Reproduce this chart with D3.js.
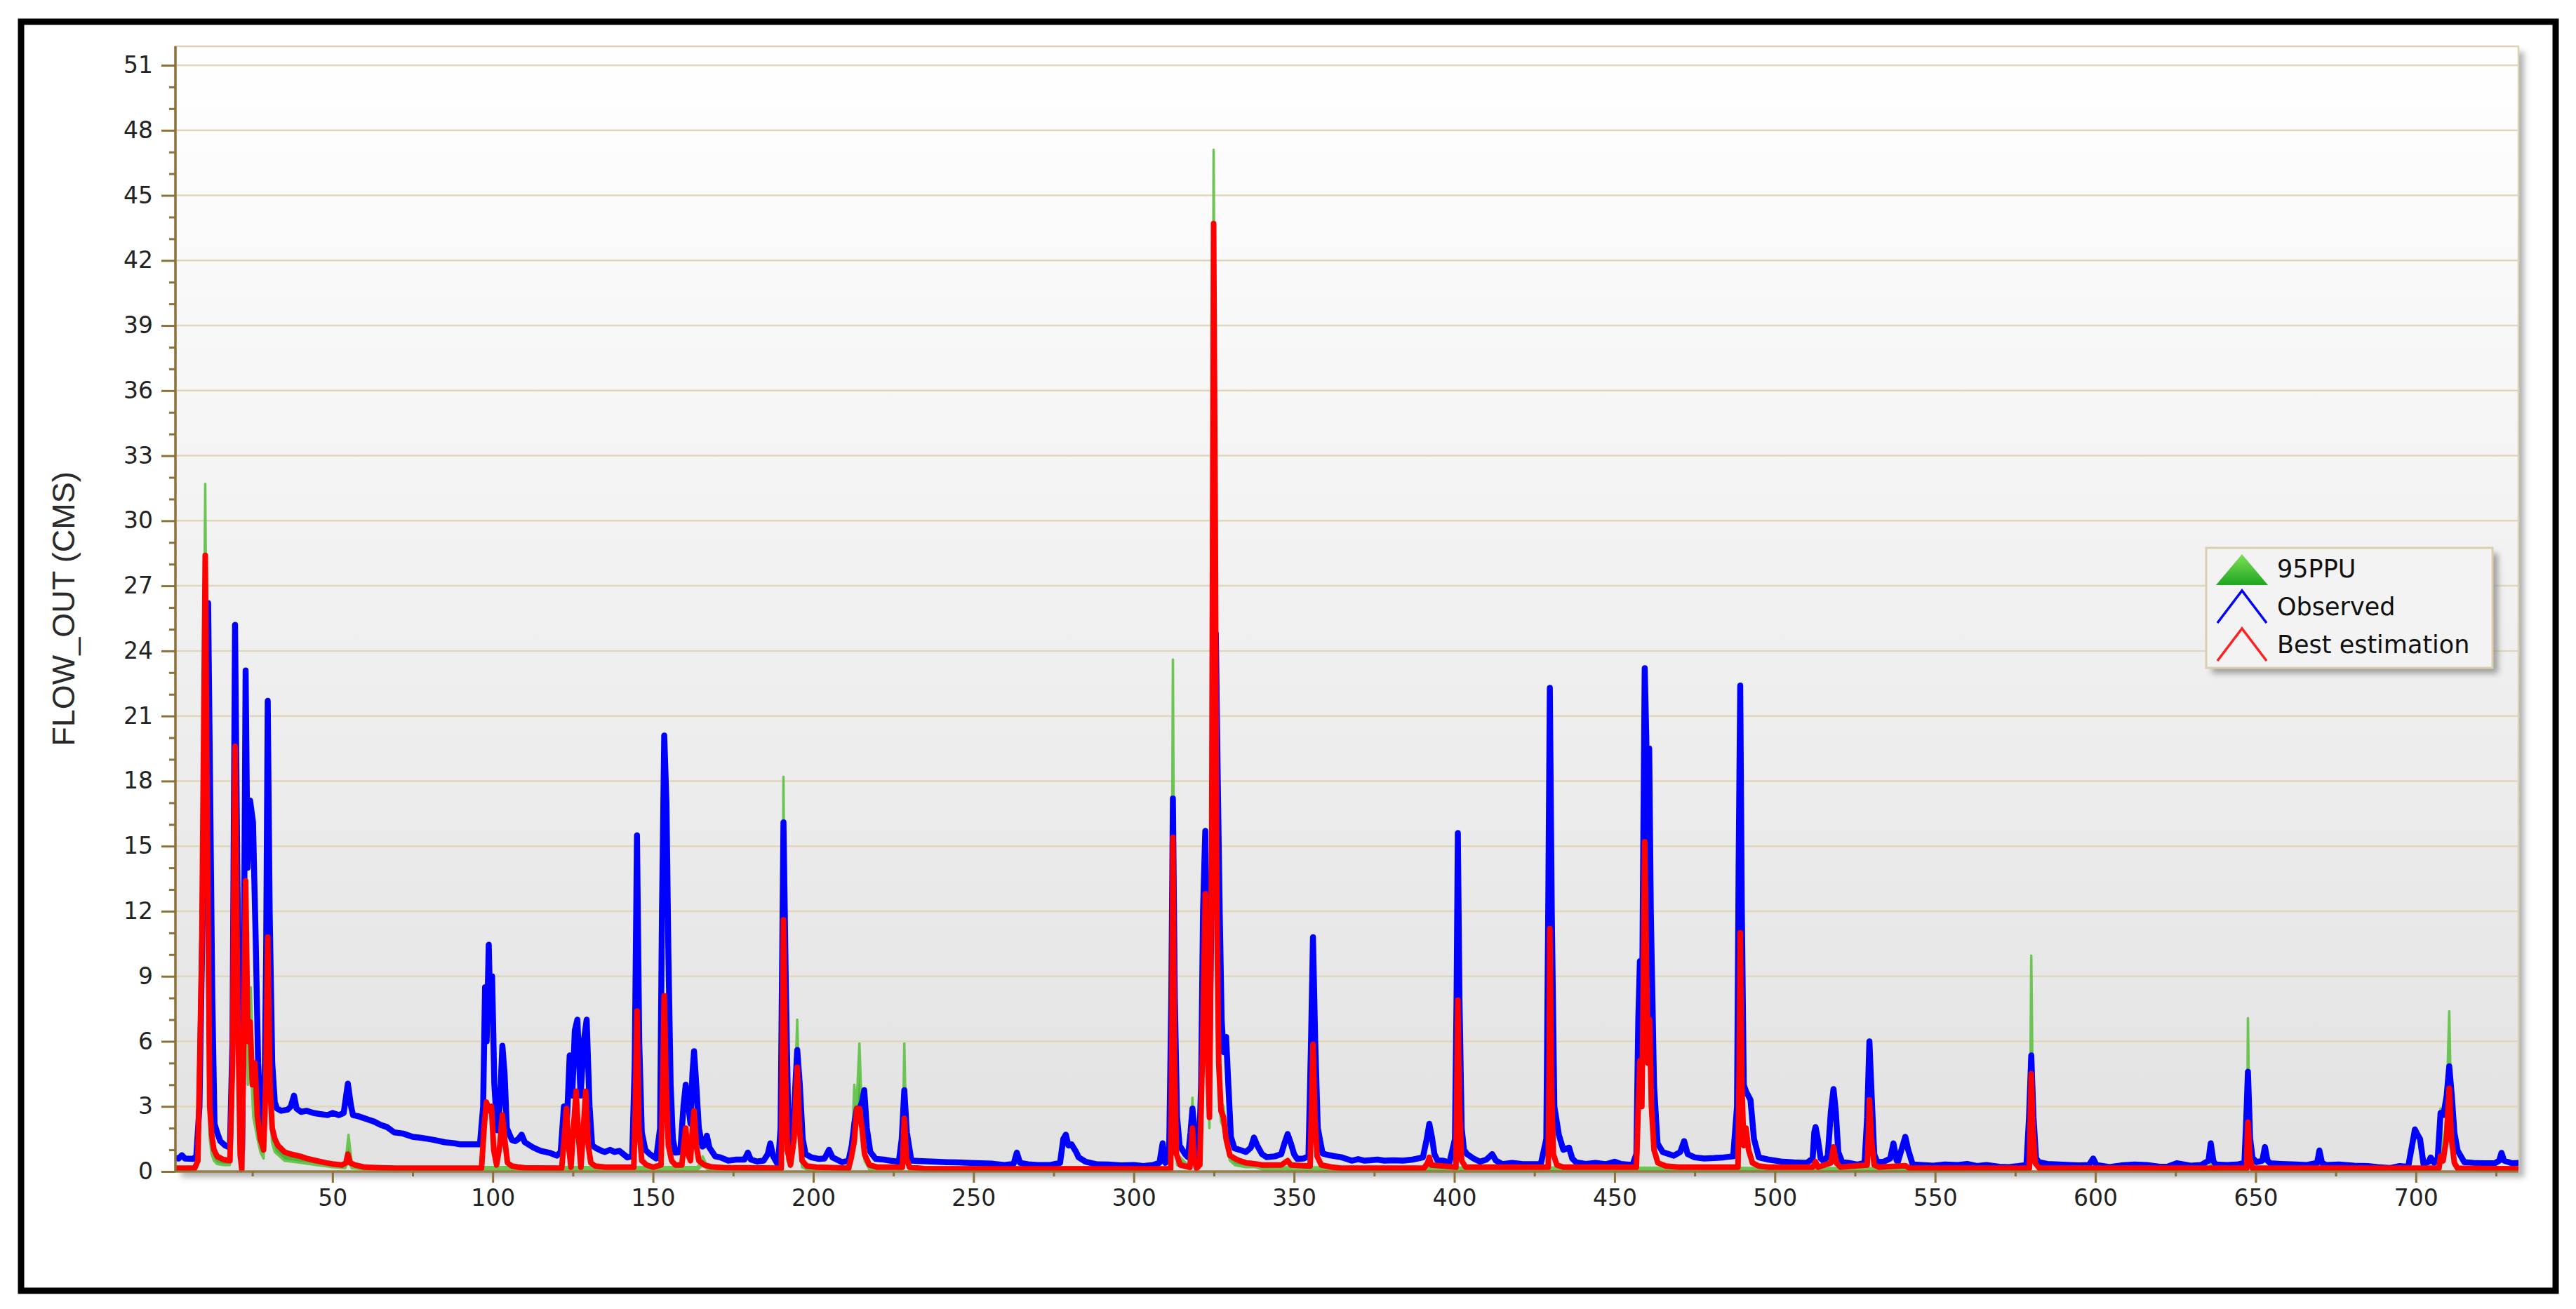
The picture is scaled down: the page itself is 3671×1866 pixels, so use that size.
<!DOCTYPE html>
<html><head><meta charset="utf-8">
<script src="https://cdn.jsdelivr.net/npm/d3@7"></script>
<style>html,body{margin:0;padding:0;background:#fff;} svg{display:block;}</style>
</head><body>
<svg id="chart" width="3671" height="1866"></svg>
<script>
// ---------------- DATA ----------------
const xTicks = [50,100,150,200,250,300,350,400,450,500,550,600,650,700];
const xMinorTicks = [25,75,125,175,225,275,325,375,425,475,525,575,625,675,725];
const yTicks = [0,3,6,9,12,15,18,21,24,27,30,33,36,39,42,45,48,51];
const yMinorTicks = [1,2,4,5,7,8,10,11,13,14,16,17,19,20,22,23,25,26,28,29,31,32,34,35,37,38,40,41,43,44,46,47,49,50];
const seriesNames = ["95PPU","Observed","Best estimation"];

// Observed flow [day, value]
const observed = [[1,0.62],[2,0.6],[3,0.75],[4,0.6],[6.5,0.58],[7.5,0.7],[8.5,3],[9.5,12],[10.3,20],[11.2,26.2],[11.8,18],[12.5,8],[13.2,2.2],[14,1.8],[15,1.4],[16.5,1.2],[18,1.1],[18.8,6],[19.6,25.2],[20.3,14],[21,6],[21.8,1.0],[22.3,8],[22.9,23.1],[23.5,14],[24.3,17.1],[25.2,16.1],[26,11],[26.8,5],[27.7,2.2],[28.7,2.2],[29.3,10],[29.8,21.7],[30.4,12],[31.2,5],[32,3.2],[32.7,2.9],[34,2.8],[36,2.85],[37,3.0],[38,3.5],[38.8,2.9],[40.2,2.75],[42,2.8],[44,2.7],[46,2.65],[48.5,2.6],[50,2.7],[52,2.6],[53.5,2.7],[54.8,4.05],[55.8,3.0],[56.4,2.6],[58,2.55],[61,2.4],[63,2.3],[65,2.15],[67,2.05],[69.3,1.8],[72,1.75],[75,1.6],[77.7,1.55],[80,1.5],[81.8,1.45],[85,1.35],[88,1.3],[90,1.25],[96,1.25],[97,3],[97.6,8.5],[98.1,6],[98.75,10.45],[99.3,7],[99.8,9],[100.5,4],[101.4,1.9],[102.2,3],[103,5.8],[103.7,4.5],[104.4,2],[106,1.45],[107,1.4],[108,1.5],[109,1.7],[110,1.35],[112.7,1.1],[115,0.95],[118,0.85],[120,0.73],[121.2,0.9],[122.2,3.0],[123.2,2.5],[124,5.35],[124.8,3.5],[125.6,6.5],[126.4,7.0],[127.4,3.5],[128.4,6],[129.3,7.0],[130.2,3],[131,1.2],[132.2,1.08],[134,0.95],[135,0.9],[136.6,1.0],[138,0.9],[139.5,0.95],[142,0.65],[143.5,0.7],[144.3,5],[145,15.5],[145.7,6],[146.5,1.8],[147.6,1.0],[149,0.8],[151,0.6],[152.2,2],[152.8,12],[153.5,20.1],[154.2,17],[154.8,10],[155.5,4],[156.2,1.5],[157,0.87],[158.5,0.9],[159.5,3],[160.2,4.0],[160.9,3.2],[161.7,2.2],[162.3,4.5],[162.8,5.55],[163.5,4],[164.3,2.0],[165.4,1.15],[166,1.2],[166.8,1.65],[167.6,1.1],[169.4,0.7],[171,0.65],[173.5,0.5],[176,0.55],[178.5,0.55],[179.6,0.87],[180.5,0.55],[182.5,0.46],[184.5,0.5],[185.8,0.8],[186.6,1.3],[187.5,0.7],[189,0.3],[189.8,2],[190.7,16.1],[191.5,8],[192.3,1.5],[192.9,0.9],[193.7,2],[195,5.6],[195.8,4],[196.7,1.5],[197.6,0.8],[199.5,0.65],[201.8,0.58],[203.5,0.6],[204.9,1.0],[206,0.65],[209,0.43],[211,0.5],[212,1.2],[212.8,2.2],[213.6,2.9],[214.4,2.9],[215.2,3.2],[215.9,3.75],[216.7,2],[217.8,0.9],[219.5,0.58],[222,0.55],[224,0.5],[226.7,0.45],[227.6,1.5],[228.4,3.75],[229.2,1.8],[230.6,0.5],[234,0.48],[238,0.45],[241.6,0.43],[245,0.42],[249,0.4],[252,0.38],[256,0.36],[259.6,0.3],[262.5,0.35],[263.5,0.87],[264.5,0.4],[267,0.33],[270,0.3],[274,0.3],[277,0.4],[278,1.5],[278.8,1.7],[279.6,1.2],[280.6,1.25],[282,0.9],[282.8,0.65],[285,0.45],[288.6,0.33],[292,0.32],[296,0.28],[300,0.3],[303,0.25],[306,0.3],[308,0.4],[309,1.3],[309.8,0.4],[311,0.6],[311.7,8],[312.2,17.2],[312.8,8],[313.5,2.5],[314.3,1.2],[316,0.8],[316.9,0.66],[317.7,1.8],[318.3,2.9],[318.9,2],[319.5,0.8],[320.3,0.6],[321,4],[321.6,12],[322.3,15.7],[322.9,9],[323.6,5],[324.4,14],[325.2,22],[325.6,24.8],[326.2,18],[326.8,12],[327.4,7],[328,5.5],[328.8,6.2],[329.5,4],[330.3,1.6],[331.4,1.07],[333,1.0],[335,0.9],[336.5,1.1],[337.5,1.57],[338.5,1.2],[340,0.8],[341.5,0.66],[344,0.7],[346,0.8],[347,1.3],[348,1.73],[349,1.3],[350,0.8],[351,0.58],[353,0.6],[354.5,0.7],[355.3,6],[355.9,10.8],[356.6,6],[357.4,2],[358.9,0.83],[361,0.75],[363,0.7],[364.7,0.66],[366,0.6],[368,0.5],[370,0.57],[372,0.5],[373.6,0.52],[376,0.55],[378.2,0.5],[381,0.52],[384,0.5],[387,0.55],[390.2,0.65],[391.4,1.5],[392.2,2.2],[393,1.6],[393.8,0.8],[394.8,0.5],[396.5,0.5],[398.5,0.42],[400.2,1.5],[400.7,8],[401.1,15.6],[401.6,8],[402.3,2],[403,1.0],[404,0.8],[406,0.6],[408,0.45],[410,0.55],[411.8,0.8],[413,0.5],[415,0.34],[418,0.4],[421,0.35],[424.3,0.34],[427,0.35],[428.7,1.5],[429.3,12],[429.8,22.3],[430.4,12],[431.2,3],[432.6,1.7],[434,1.0],[435.8,1.1],[436.8,0.6],[438,0.42],[441,0.35],[444,0.4],[447.3,0.34],[450,0.45],[452,0.35],[455.6,0.3],[456.8,0.8],[457.4,7],[457.9,9.7],[458.5,6],[459,16],[459.4,23.2],[459.9,20],[460.3,14],[460.8,19.5],[461.3,12],[461.8,8],[462.3,4],[463.4,1.3],[465,0.9],[468.5,0.73],[470.5,0.9],[471.7,1.4],[472.8,0.8],[475,0.65],[478,0.6],[481,0.62],[484,0.65],[487,0.7],[488.2,3],[488.7,14],[489.2,22.4],[489.7,12],[490.3,4],[491,3.7],[492.4,3.3],[493.5,1.5],[495,0.65],[498,0.55],[502.5,0.45],[506,0.42],[510,0.4],[511.8,0.6],[512.3,1.8],[512.7,2.05],[513.3,1.6],[514.3,0.6],[515.2,0.48],[516.5,0.7],[517.5,2.8],[518.3,3.8],[519,2.8],[519.8,0.9],[521,0.43],[523,0.4],[525.8,0.32],[528,0.4],[528.8,2.5],[529.5,6.0],[530.2,3.5],[531,0.8],[532,0.43],[534,0.45],[536,0.6],[537,1.3],[538,0.5],[538.4,0.45],[539.5,1.0],[540.7,1.6],[541.6,1.0],[543,0.32],[546,0.3],[549.4,0.27],[553,0.32],[557.2,0.3],[560,0.35],[563,0.25],[566,0.3],[570,0.22],[573,0.2],[576,0.25],[578.5,0.3],[579.3,2.5],[580,5.35],[580.7,2.5],[581.5,0.6],[582.4,0.43],[585,0.35],[588.7,0.32],[592,0.3],[595,0.28],[598,0.3],[599.3,0.6],[600.3,0.3],[604.4,0.2],[608,0.28],[612.3,0.32],[616,0.3],[620,0.22],[622.4,0.22],[625.4,0.38],[629.7,0.27],[633,0.3],[635.3,0.5],[636,1.3],[636.8,0.5],[637.5,0.32],[641,0.3],[644.3,0.32],[646.5,0.4],[647.1,2.5],[647.6,4.6],[648.3,1.5],[649,0.65],[650.2,0.43],[652.1,0.5],[652.9,1.13],[653.7,0.5],[654.6,0.38],[658,0.35],[662.6,0.32],[666,0.3],[669.2,0.4],[669.9,0.97],[670.7,0.4],[672,0.3],[676,0.32],[680.8,0.27],[685,0.25],[688,0.2],[691.8,0.16],[695,0.25],[697.6,0.22],[698.8,1.2],[699.7,1.94],[700.5,1.7],[701.3,1.5],[702.4,0.32],[704,0.45],[704.6,0.65],[705.7,0.4],[706.8,0.6],[707.7,2.7],[708.6,2.6],[709.6,3.5],[710.4,4.85],[711.2,3.5],[712,1.8],[713,0.97],[715.1,0.43],[718,0.4],[721,0.38],[724.6,0.38],[726,0.5],[726.7,0.86],[727.5,0.5],[730,0.38],[732,0.4]];

// Best estimation [day, value]
const bestEstimation = [[1,0.15],[7,0.15],[8,0.5],[9.2,10],[10.3,28.4],[11,15],[11.7,3],[12.3,1.7],[13,1.0],[14,0.7],[16,0.55],[18,0.5],[18.8,5],[19.6,19.6],[20.4,8],[21.2,0.8],[21.7,0.1],[22.3,6],[22.9,13.4],[23.6,6],[24.3,6.9],[25,4],[25.8,5],[26.6,2.5],[27.5,1.5],[28.5,1.0],[29.2,4],[29.8,10.8],[30.5,4],[31.2,2.0],[32,1.5],[33,1.2],[35,0.9],[37,0.8],[40,0.7],[42,0.6],[45,0.5],[48,0.4],[50,0.35],[53,0.3],[54.2,0.4],[54.8,0.8],[55.5,0.4],[57,0.3],[60,0.2],[65,0.17],[70,0.15],[96.5,0.15],[97.3,2],[98,3.2],[99,2.8],[99.6,3.0],[100.3,1],[101.2,0.3],[102.2,1.2],[103,2.6],[103.8,1.4],[104.6,0.4],[106,0.25],[108,0.2],[110,0.17],[121.5,0.15],[122.3,1.5],[123,2.9],[123.8,1.0],[124.4,0.2],[125.2,2],[126,3.7],[126.8,1.5],[127.5,0.2],[128.3,2],[129,3.7],[129.8,1.2],[130.6,0.4],[132,0.25],[135,0.2],[144,0.2],[144.5,3],[145,7.4],[145.6,2],[146.5,0.5],[148,0.3],[150,0.2],[152.5,0.3],[153,4],[153.5,8.1],[154.1,4],[154.8,1.2],[155.8,0.5],[157,0.3],[159,0.3],[159.6,1.2],[160.2,2.0],[160.9,0.8],[161.7,0.5],[162.3,2],[162.8,2.8],[163.5,1.2],[164.3,0.5],[166,0.3],[168,0.22],[172,0.18],[190,0.15],[190.3,4],[190.7,11.6],[191.3,5],[191.9,1],[192.9,0.3],[194,1.5],[195,4.8],[195.7,2],[196.5,0.5],[198,0.25],[201,0.2],[211,0.15],[211.8,0.6],[212.8,1.4],[213.6,2.9],[214.4,2.9],[215.2,2.0],[216,0.8],[217.5,0.3],[220,0.2],[227.8,0.2],[228.4,2.45],[229.1,0.6],[230,0.2],[235,0.12],[311.5,0.12],[311.9,6],[312.2,15.4],[312.7,5],[313.3,0.8],[314.5,0.3],[317.5,0.2],[318,1.2],[318.3,2.0],[318.8,0.6],[319.6,0.15],[320.6,0.3],[321.5,6],[322.3,12.8],[322.9,6],[323.6,2.5],[324.3,15],[324.9,43.7],[325.4,30],[325.9,12],[326.5,5],[327.2,2.8],[328,2.5],[328.8,1.5],[330,0.74],[331.5,0.6],[333,0.5],[335,0.4],[338,0.35],[340,0.3],[346,0.3],[348,0.5],[349,0.3],[355,0.25],[355.5,3],[355.9,5.86],[356.5,2.5],[357.2,0.7],[358.5,0.3],[362,0.2],[365,0.15],[390.5,0.15],[391.7,0.4],[392.2,0.65],[392.8,0.3],[400.5,0.2],[400.8,4],[401.1,7.9],[401.6,3],[402.3,0.5],[403.5,0.2],[429.3,0.2],[429.6,5],[429.8,11.2],[430.3,4],[430.9,0.8],[432,0.3],[434,0.2],[456.8,0.2],[457.4,3],[457.9,5.1],[458.5,3],[459,9],[459.4,15.2],[459.9,10],[460.4,5],[460.9,7],[461.5,3],[462.3,1],[463.5,0.4],[466,0.25],[470,0.2],[488.5,0.2],[488.9,5],[489.2,11.0],[489.7,4],[490.3,1.2],[491,2.0],[491.8,1.0],[493,0.4],[495,0.25],[498,0.2],[511.8,0.2],[512.7,0.45],[513.5,0.2],[517.5,0.4],[518.3,1.13],[519.2,0.4],[520.5,0.2],[528.8,0.3],[529.3,2],[529.5,3.3],[530.1,1.5],[531,0.3],[532.5,0.2],[540.7,0.27],[542,0.15],[579.4,0.15],[579.7,2.5],[580,4.5],[580.5,2],[581.2,0.4],[582.5,0.15],[647.2,0.15],[647.4,1.5],[647.6,2.27],[648.2,0.6],[649,0.15],[707.2,0.15],[707.7,0.7],[708.5,0.5],[709.5,1.5],[710.4,3.83],[711.1,1.5],[712,0.4],[713,0.15],[732,0.12]];

// 95PPU band: days, lower and upper bound
const ppuDays = [1,7,8,9.2,10.3,11,11.7,12.3,13,14,16,18,18.8,19.6,20.4,21.2,21.7,22.3,22.9,23.6,24.5,25.3,26.6,27.5,28.5,29.2,29.8,30.5,31.2,32,35,40,45,50,54,55,56,60,164,165.5,167,190,190.3,190.7,191.3,191.9,192.9,194,195,195.7,196.5,198,211.5,212.3,212.8,213.5,214.4,215.2,216,217.5,227.8,228.4,229.1,230,311.5,312.2,312.8,313.5,317.5,318.3,319,321,322.3,322.9,323.6,324.3,324.9,325.4,325.9,326.5,327.2,328,328.8,330,331.5,333,335,338,340,345,560,561,562,579.4,579.7,580,580.5,581.2,582.5,635.5,636,636.5,647.2,647.4,647.6,648.2,649,707.2,707.7,708.5,709.5,710.4,711.1,712,713,732];
const ppuLow  = [0.05,0.05,0.3,6,20,8,1.5,0.8,0.5,0.35,0.3,0.3,3,15,5,0.5,0.05,4,10,4,5,2.5,1.5,0.9,0.6,3,8,2.5,1.3,0.9,0.5,0.4,0.3,0.2,0.15,0.5,0.15,0.1,0.1,0.3,0.1,0.1,3,9,3,0.5,0.2,1,3.5,1.5,0.2,0.1,0.1,1.0,1.2,2.0,2.5,1.5,0.5,0.1,0.1,1.8,0.4,0.1,0.1,12,3,0.3,0.1,1.5,0.3,1,10,5,2,12,40,25,10,4,2.3,2,1.2,0.5,0.3,0.25,0.2,0.2,0.1,0.1,0.05,0.1,0.05,0.1,2,3.5,1.5,0.3,0.1,0.05,0.1,0.05,0.1,1,1.8,0.4,0.1,0.1,0.5,0.4,1.2,3,1.2,0.3,0.1,0.1];
const ppuUp   = [0.2,0.2,0.6,11,31.7,16,3,1.7,1.0,0.7,0.55,0.5,5,19.8,8,0.8,0.1,6,13.5,6,8.5,4.5,2.5,1.5,1.0,4,10.9,4,2.0,1.5,0.9,0.7,0.5,0.35,0.35,1.7,0.4,0.2,0.2,0.7,0.2,0.2,6,18.2,6,1,0.3,2.5,7.0,3,0.5,0.2,0.2,2.0,4.0,3.0,5.9,2.5,1.0,0.3,0.2,5.9,0.8,0.2,0.2,23.6,6,0.8,0.2,3.4,0.6,4,15.8,7,3,18,47.1,33,14,6,3.2,3.0,1.8,0.8,0.6,0.5,0.4,0.35,0.3,0.2,0.15,0.35,0.15,0.2,4,9.95,3,0.5,0.2,0.15,0.35,0.15,0.2,3,7.07,0.8,0.2,0.2,2.9,0.7,2.5,7.39,2,0.5,0.2,0.2];

// ---------------- LAYOUT ----------------
const svg = d3.select('#chart');
const defs = svg.append('defs');
const L = 250, R = 3589, T = 66, B = 1670;

const x = d3.scaleLinear().domain([1, 732]).range([L, R]);
const y = d3.scaleLinear().domain([0, 51]).range([B, 93]);

const bg = defs.append('linearGradient').attr('id','bgGrad').attr('x1',0).attr('y1',0).attr('x2',0).attr('y2',1);
bg.append('stop').attr('offset','0%').attr('stop-color','#ffffff');
bg.append('stop').attr('offset','100%').attr('stop-color','#e2e2e2');

const tri = defs.append('linearGradient').attr('id','triGrad').attr('x1',0).attr('y1',0).attr('x2',0).attr('y2',1);
tri.append('stop').attr('offset','0%').attr('stop-color','#7ee05a');
tri.append('stop').attr('offset','100%').attr('stop-color','#1fa61f');

const blur = defs.append('filter').attr('id','blur').attr('x','-10%').attr('y','-10%').attr('width','120%').attr('height','120%');
blur.append('feGaussianBlur').attr('stdDeviation', 4);

defs.append('clipPath').attr('id','plotClip').append('rect')
  .attr('x', L).attr('y', T).attr('width', R - L).attr('height', B - T + 3);

// outer black frame
svg.append('rect').attr('x', 30).attr('y', 31).attr('width', 3612).attr('height', 1809)
  .attr('fill', 'none').attr('stroke', '#000').attr('stroke-width', 9);

// plot shadow
svg.append('rect').attr('x', L + 8).attr('y', T + 8).attr('width', R - L).attr('height', B - T)
  .attr('fill', '#9a9a9a').attr('opacity', 0.75).attr('filter', 'url(#blur)');

// plot background
svg.append('rect').attr('x', L).attr('y', T).attr('width', R - L).attr('height', B - T)
  .attr('fill', 'url(#bgGrad)').attr('stroke', '#ddd3b4').attr('stroke-width', 2.5);

// gridlines
svg.append('g').selectAll('line').data(yTicks.filter(d => d > 0)).join('line')
  .attr('x1', L).attr('x2', R).attr('y1', d => y(d)).attr('y2', d => y(d))
  .attr('stroke', '#e0d6ba').attr('stroke-width', 2.5);

// ---------------- SERIES ----------------
const plot = svg.append('g').attr('clip-path', 'url(#plotClip)');

const ppuData = ppuDays.map((d, i) => ({ d, lo: ppuLow[i], hi: ppuUp[i] }));
const band = d3.area().x(p => x(p.d)).y0(p => y(p.lo)).y1(p => y(p.hi));
plot.append('path').datum(ppuData).attr('d', band)
  .attr('fill', '#49b53a').attr('stroke', '#6cc453').attr('stroke-width', 3.5).attr('stroke-linejoin', 'round');

const line = d3.line().x(p => x(p[0])).y(p => y(p[1]));
plot.append('path').datum(observed).attr('d', line)
  .attr('fill', 'none').attr('stroke', '#0000ff').attr('stroke-width', 8.5)
  .attr('stroke-linejoin', 'round').attr('stroke-linecap', 'round');
plot.append('path').datum(bestEstimation).attr('d', line)
  .attr('fill', 'none').attr('stroke', '#ff0000').attr('stroke-width', 8)
  .attr('stroke-linejoin', 'round').attr('stroke-linecap', 'round');

// ---------------- AXES ----------------
const axisColor = '#8a7238';
const fontTick = "'DejaVu Sans', Verdana, sans-serif";

const yAxis = svg.append('g').attr('transform', `translate(${L},0)`)
  .call(d3.axisLeft(y).tickValues(yTicks).tickSize(20).tickPadding(12).tickFormat(d3.format('d')));
const yMinor = svg.append('g').attr('transform', `translate(${L},0)`)
  .call(d3.axisLeft(y).tickValues(yMinorTicks).tickSize(9).tickFormat(''));
[yAxis, yMinor].forEach(g => {
  g.select('.domain').remove();
  g.selectAll('line').attr('stroke', axisColor).attr('stroke-width', 3);
});
yAxis.selectAll('text').attr('font-family', fontTick).attr('font-size', 33).attr('fill', '#222');
svg.append('line').attr('x1', L).attr('x2', L).attr('y1', T).attr('y2', B + 1)
  .attr('stroke', axisColor).attr('stroke-width', 3.5);

const xAxis = svg.append('g').attr('transform', `translate(0,${B})`)
  .call(d3.axisBottom(x).tickValues(xTicks).tickSize(16).tickPadding(10).tickFormat(d3.format('d')));
const xMinor = svg.append('g').attr('transform', `translate(0,${B})`)
  .call(d3.axisBottom(x).tickValues(xMinorTicks).tickSize(7).tickFormat(''));
[xAxis, xMinor].forEach(g => {
  g.select('.domain').remove();
  g.selectAll('line').attr('stroke', axisColor).attr('stroke-width', 3);
});
xAxis.selectAll('text').attr('font-family', fontTick).attr('font-size', 33).attr('fill', '#222');
svg.append('line').attr('x1', L).attr('x2', R).attr('y1', B).attr('y2', B)
  .attr('stroke', axisColor).attr('stroke-width', 3.5).attr('opacity', 0.85);

// y axis title
svg.append('text').attr('transform', 'translate(106,868) rotate(-90)')
  .attr('text-anchor', 'middle').attr('font-family', "'Liberation Sans', Arial, sans-serif")
  .attr('font-size', 45).attr('fill', '#2a2a2a').text('FLOW_OUT (CMS)');

// ---------------- LEGEND ----------------
const lg = svg.append('g');
const LX = 3144, LY = 781, LW = 408, LH = 171;
lg.append('rect').attr('x', LX + 8).attr('y', LY + 8).attr('width', LW).attr('height', LH)
  .attr('fill', '#8c8c8c').attr('opacity', 0.8).attr('filter', 'url(#blur)');
lg.append('rect').attr('x', LX).attr('y', LY).attr('width', LW).attr('height', LH)
  .attr('fill', '#f3f3f3').attr('stroke', '#d9cfae').attr('stroke-width', 3);
const rowY = [811, 865, 919];
lg.append('polygon').attr('points', `${LX+14},${rowY[0]+23} ${LX+51},${rowY[0]-21} ${LX+88},${rowY[0]+23}`)
  .attr('fill', 'url(#triGrad)');
const legColors = ['#0000ff', '#ff2020'];
[1, 2].forEach(i => {
  const cy = rowY[i];
  lg.append('polyline').attr('points', `${LX+16},${cy+23} ${LX+51},${cy-23} ${LX+86},${cy+23}`)
    .attr('fill', 'none').attr('stroke', legColors[i-1]).attr('stroke-width', 3.5);
});
lg.selectAll('text.leg').data(seriesNames).join('text').attr('class', 'leg')
  .attr('x', LX + 101).attr('y', (d, i) => rowY[i] + 12)
  .attr('font-family', fontTick).attr('font-size', 35).attr('fill', '#111').text(d => d);
</script>
</body></html>
